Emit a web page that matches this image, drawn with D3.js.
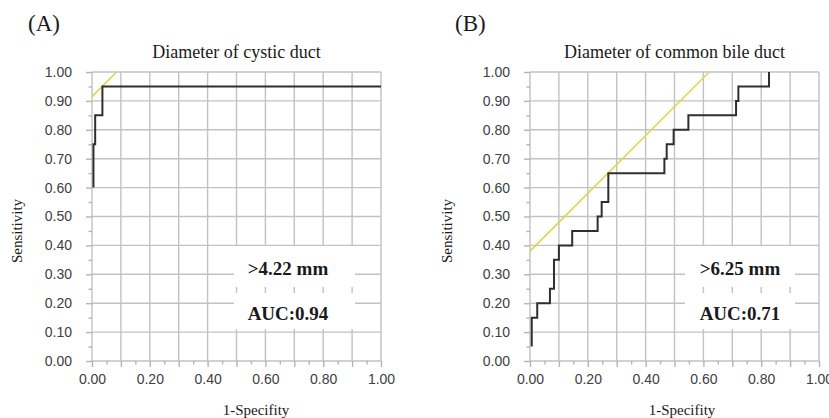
<!DOCTYPE html>
<html>
<head>
<meta charset="utf-8">
<script src="https://cdn.jsdelivr.net/npm/d3@7"></script>
<style>
  body { margin: 0; background: #fff; }
  svg { display: block; }
  .grid line { stroke: #c2c2c2; stroke-width: 1.4; }
  .axis path { display: none; }
  .axis line { stroke: #b4b4b4; stroke-width: 1.4; }
  .axis text { font-family: "Liberation Sans", Arial, sans-serif; font-size: 14px; fill: #404040; }
  .serif { font-family: "Liberation Serif", "Times New Roman", serif; fill: #1a1a1a; }
</style>
</head>
<body>
<svg id="chart" width="829" height="418"></svg>
<script>
    // tick values (gridlines every 0.1, x labels every 0.2, minor ticks between)
    var gridTicks = [0.0, 0.1, 0.2, 0.3, 0.4, 0.5, 0.6, 0.7, 0.8, 0.9, 1.0];
    var xLabelTicks = [0.0, 0.2, 0.4, 0.6, 0.8, 1.0];
    var minorTicks = [0.05, 0.15, 0.25, 0.35, 0.45, 0.55, 0.65, 0.75, 0.85, 0.95];

    // panel A : cystic duct
    var rocA_fpr = [0.005, 0.005, 0.011, 0.011, 0.036, 0.036, 1.0];
    var rocA_tpr = [0.60, 0.75, 0.75, 0.85, 0.85, 0.95, 0.95];
    var refA_fpr = [0.0, 0.085];
    var refA_tpr = [0.915, 1.0];

    // panel B : common bile duct
    var rocB_fpr = [0.006, 0.006, 0.025, 0.025, 0.069, 0.069, 0.083, 0.083, 0.100, 0.100,
                    0.146, 0.146, 0.234, 0.234, 0.248, 0.248, 0.271, 0.271, 0.465, 0.465,
                    0.473, 0.473, 0.497, 0.497, 0.548, 0.548, 0.713, 0.713, 0.721, 0.721,
                    0.827, 0.827];
    var rocB_tpr = [0.05, 0.15, 0.15, 0.20, 0.20, 0.25, 0.25, 0.35, 0.35, 0.40,
                    0.40, 0.45, 0.45, 0.50, 0.50, 0.55, 0.55, 0.65, 0.65, 0.70,
                    0.70, 0.75, 0.75, 0.80, 0.80, 0.85, 0.85, 0.90, 0.90, 0.95,
                    0.95, 1.00];
    var refB_fpr = [0.0, 0.62];
    var refB_tpr = [0.38, 1.0];

    var svg = d3.select("#chart");
    var plotTop = 72, plotSize = 289;

    var panels = [
        {tag: "(A)", tagX: 28, title: "Diameter of cystic duct", left: 92,
         fpr: rocA_fpr, tpr: rocA_tpr, refX: refA_fpr, refY: refA_tpr,
         cut: ">4.22 mm", auc: "AUC:0.94", boxX: 142, boxW: 121, textX: 196,
         ylabX: 17, xlabX: 256},
        {tag: "(B)", tagX: 455, title: "Diameter of common bile duct", left: 530,
         fpr: rocB_fpr, tpr: rocB_tpr, refX: refB_fpr, refY: refB_tpr,
         cut: ">6.25 mm", auc: "AUC:0.71", boxX: 155, boxW: 110, textX: 210,
         ylabX: 447, xlabX: 682}
    ];

    function drawPanel(p) {
        var x = d3.scaleLinear().domain([0, 1]).range([0, plotSize]);
        var y = d3.scaleLinear().domain([0, 1]).range([plotSize, 0]);

        svg.append("text").attr("class", "serif")
            .attr("x", p.tagX).attr("y", 31)
            .style("font-size", "23px")
            .text(p.tag);

        svg.append("text").attr("class", "serif")
            .attr("x", p.left + plotSize / 2).attr("y", 58)
            .attr("text-anchor", "middle")
            .style("font-size", "18px")
            .text(p.title);

        var g = svg.append("g")
            .attr("transform", "translate(" + p.left + "," + plotTop + ")");

        // gridlines
        var grid = g.append("g").attr("class", "grid");
        grid.selectAll(".vx").data(gridTicks).enter().append("line")
            .attr("x1", d => x(d)).attr("x2", d => x(d))
            .attr("y1", 0).attr("y2", plotSize);
        grid.selectAll(".hy").data(gridTicks).enter().append("line")
            .attr("y1", d => y(d)).attr("y2", d => y(d))
            .attr("x1", 0).attr("x2", plotSize);

        var xfmt = d => xLabelTicks.indexOf(d) >= 0 ? d3.format(".2f")(d) : "";

        g.append("g").attr("class", "axis")
            .attr("transform", "translate(0," + plotSize + ")")
            .call(d3.axisBottom(x).tickValues(gridTicks).tickSize(6).tickPadding(7).tickFormat(xfmt));
        g.append("g").attr("class", "axis")
            .attr("transform", "translate(0," + plotSize + ")")
            .call(d3.axisBottom(x).tickValues(minorTicks).tickSize(3.5).tickFormat(""));
        g.append("g").attr("class", "axis")
            .call(d3.axisLeft(y).tickValues(gridTicks).tickSize(6).tickPadding(14).tickFormat(d3.format(".2f")));
        g.append("g").attr("class", "axis")
            .call(d3.axisLeft(y).tickValues(minorTicks).tickSize(3.5).tickFormat(""));

        // annotation boxes
        g.append("rect").attr("x", p.boxX).attr("y", 174)
            .attr("width", p.boxW).attr("height", 41).attr("fill", "#fff");
        g.append("rect").attr("x", p.boxX).attr("y", 221)
            .attr("width", p.boxW).attr("height", 36).attr("fill", "#fff");

        // tangent line
        var ref = p.refX.map((v, i) => [v, p.refY[i]]);
        g.append("path").datum(ref)
            .attr("fill", "none").attr("stroke", "#e4d34c").attr("stroke-width", 1.6)
            .attr("d", d3.line().x(d => x(d[0])).y(d => y(d[1])));

        // ROC curve
        var pts = p.fpr.map((v, i) => [v, p.tpr[i]]);
        g.append("path").datum(pts)
            .attr("fill", "none").attr("stroke", "#2f2f2f").attr("stroke-width", 2)
            .attr("d", d3.line().x(d => x(d[0])).y(d => y(d[1])));

        g.append("text").attr("class", "serif")
            .attr("x", p.textX).attr("y", 196).attr("dy", "0.35em")
            .attr("text-anchor", "middle")
            .style("font-size", "19px").style("font-weight", "bold")
            .text(p.cut);
        g.append("text").attr("class", "serif")
            .attr("x", p.textX).attr("y", 241).attr("dy", "0.35em")
            .attr("text-anchor", "middle")
            .style("font-size", "19px").style("font-weight", "bold")
            .text(p.auc);

        // axis titles
        svg.append("text").attr("class", "serif")
            .attr("transform", "translate(" + p.ylabX + ",231) rotate(-90)")
            .attr("text-anchor", "middle").attr("dy", "0.35em")
            .style("font-size", "15px")
            .text("Sensitivity");
        svg.append("text").attr("class", "serif")
            .attr("x", p.xlabX).attr("y", 410).attr("dy", "0.35em")
            .attr("text-anchor", "middle")
            .style("font-size", "15px")
            .text("1-Specifity");
    }

    panels.forEach(drawPanel);
</script>
</body>
</html>
